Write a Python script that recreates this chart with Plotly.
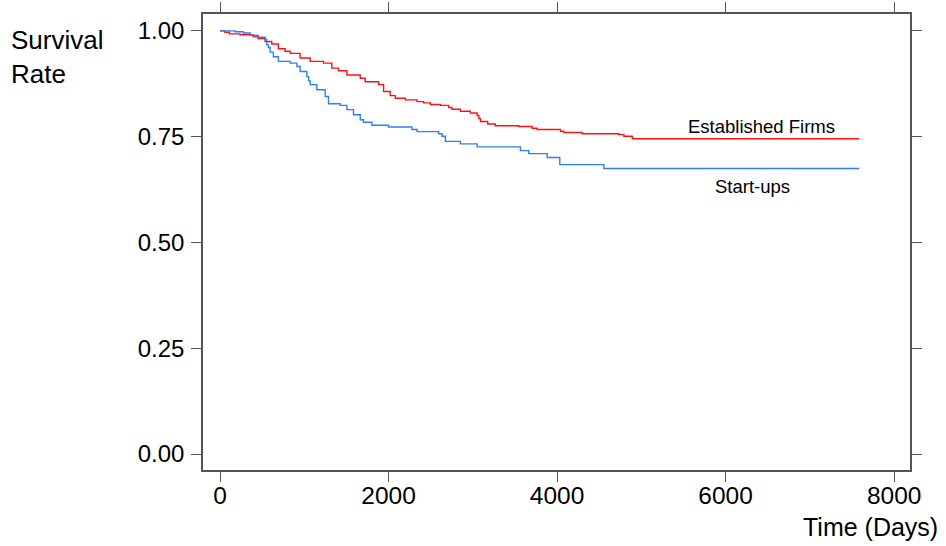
import plotly.graph_objects as go

# Kaplan-Meier step data (days, survival)
est_days = [0, 59, 111, 238, 392, 451, 535, 614, 693, 772, 832, 951, 1070, 1228, 1327, 1406,
            1506, 1664, 1723, 1882, 1941, 2020, 2080, 2199, 2338, 2416, 2496, 2615, 2713, 2753,
            2852, 2971, 3051, 3072, 3090, 3177, 3268, 3545, 3704, 3764, 4041, 4080, 4298, 4733,
            4793, 4893, 7585]
est_surv = [1.000, 0.997, 0.993, 0.991, 0.987, 0.982, 0.975, 0.969, 0.958, 0.952, 0.947, 0.936,
            0.928, 0.924, 0.912, 0.906, 0.896, 0.888, 0.880, 0.873, 0.857, 0.847, 0.841, 0.837,
            0.833, 0.830, 0.826, 0.824, 0.819, 0.815, 0.810, 0.806, 0.800, 0.793, 0.786, 0.780,
            0.776, 0.774, 0.770, 0.767, 0.763, 0.760, 0.757, 0.755, 0.751, 0.745, 0.745]

start_days = [0, 178, 277, 357, 451, 535, 555, 574, 594, 633, 693, 832, 912, 951, 1030, 1052,
              1070, 1149, 1248, 1287, 1426, 1506, 1584, 1664, 1703, 1803, 2000, 2278, 2338, 2594,
              2635, 2674, 2852, 3051, 3565, 3664, 3882, 4032, 4555, 7585]
start_surv = [1.000, 0.998, 0.995, 0.990, 0.985, 0.980, 0.967, 0.961, 0.950, 0.939, 0.928, 0.924,
              0.916, 0.904, 0.892, 0.882, 0.873, 0.861, 0.845, 0.828, 0.824, 0.814, 0.802, 0.790,
              0.784, 0.777, 0.773, 0.767, 0.762, 0.757, 0.751, 0.739, 0.733, 0.726, 0.717, 0.710,
              0.701, 0.684, 0.675, 0.675]

x_ticks = [0, 2000, 4000, 6000, 8000]
y_ticks = [0.00, 0.25, 0.50, 0.75, 1.00]

FONT = "Arial, Liberation Sans, sans-serif"
AX = "#555555"

fig = go.Figure()
fig.add_trace(go.Scatter(x=est_days, y=est_surv, mode="lines", line_shape="hv",
                         line=dict(color="#FF1010", width=1.4), name="Established Firms"))
fig.add_trace(go.Scatter(x=start_days, y=start_surv, mode="lines", line_shape="hv",
                         line=dict(color="#2B7FFF", width=1.4), name="Start-ups"))

fig.add_annotation(x=6429, y=0.773, text="Established Firms", showarrow=False,
                   font=dict(size=18.5, color="black", family=FONT), xanchor="center", yanchor="middle")
fig.add_annotation(x=6322, y=0.632, text="Start-ups", showarrow=False,
                   font=dict(size=18.5, color="black", family=FONT), xanchor="center", yanchor="middle")
fig.add_annotation(xref="paper", yref="paper", x=-0.275, y=0.98, text="Survival<br>Rate",
                   showarrow=False, align="left", xanchor="left", yanchor="top",
                   font=dict(size=26, color="black", family=FONT))
fig.add_annotation(xref="paper", yref="paper", x=1.042, y=-0.125, text="Time (Days)",
                   showarrow=False, xanchor="right", yanchor="middle",
                   font=dict(size=25, color="black", family=FONT))

fig.update_xaxes(range=[-202, 8188], tickvals=x_ticks, ticks="outside", ticklen=10,
                 tickcolor=AX, tickwidth=1.3, showline=True, linecolor=AX, linewidth=1.5,
                 mirror="ticks", showgrid=False, zeroline=False, ticklabelstandoff=-7,
                 tickfont=dict(size=24.5, color="black", family=FONT))
fig.update_yaxes(range=[-0.0377, 1.040], tickvals=y_ticks, tickformat=".2f", ticks="outside",
                 ticklen=10, tickcolor=AX, tickwidth=1.3, showline=True, linecolor=AX,
                 linewidth=1.5, mirror="ticks", showgrid=False, zeroline=False,
                 ticklabelstandoff=2, tickfont=dict(size=24, color="black", family=FONT))

fig.update_layout(width=946, height=546,
                  margin=dict(l=203, r=36, t=14, b=76, autoexpand=False),
                  plot_bgcolor="white", paper_bgcolor="white", showlegend=False,
                  font=dict(family=FONT))

fig.write_html("out.html", post_script="document.body.style.margin='0';",
               config={"displayModeBar": False})
